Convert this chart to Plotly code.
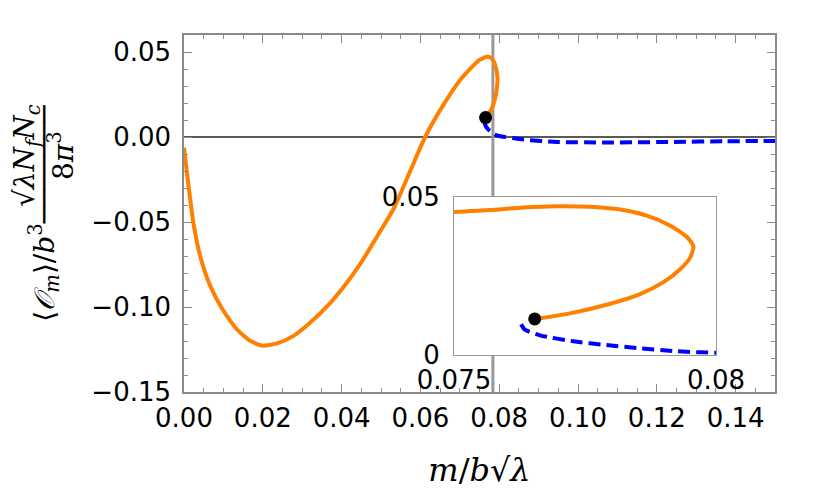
import plotly.graph_objects as go

orange_x = [0.0, 0.0011, 0.0024, 0.0041, 0.0066, 0.0096, 0.0134, 0.0168, 0.0198, 0.0236,
            0.0278, 0.0320, 0.0363, 0.0405, 0.0447, 0.0490, 0.0532, 0.0574, 0.0612, 0.0659,
            0.0701, 0.0748, 0.07569, 0.07632, 0.07696, 0.07760, 0.07823, 0.07868, 0.07912,
            0.07944, 0.07957, 0.07950, 0.07931, 0.07899, 0.07855, 0.07791, 0.07728, 0.07664,
            0.07654]
orange_y = [-0.0063, -0.0278, -0.0508, -0.0700, -0.0872, -0.1007, -0.1131, -0.1199, -0.1227,
            -0.1214, -0.1170, -0.1093, -0.0997, -0.0882, -0.0748, -0.0585, -0.0422, -0.0201,
            0.0000, 0.0192, 0.0336, 0.0451, 0.0460, 0.0468, 0.0472, 0.0470, 0.0460, 0.0442,
            0.0411, 0.0375, 0.0344, 0.0307, 0.0271, 0.0230, 0.0193, 0.0159, 0.0134, 0.0116,
            0.0114]

# unstable (blue dashed) branch
blue_x = [0.07628, 0.07635, 0.07664, 0.07728, 0.07791, 0.07855, 0.07918, 0.08004, 0.0862,
          0.0947, 0.1074, 0.1243, 0.1370, 0.1500]
blue_y = [0.0097, 0.0080, 0.0062, 0.0043, 0.0031, 0.0021, 0.0012, 0.0006, -0.0015,
          -0.0029, -0.0032, -0.0029, -0.0025, -0.0023]

# critical point and transition
crit_x = [0.07654]
crit_y = [0.0114]
transition_m = 0.0784

x_ticks = [0.0, 0.02, 0.04, 0.06, 0.08, 0.10, 0.12, 0.14]
y_ticks = [0.05, 0.0, -0.05, -0.10, -0.15]
inset_x_ticks = [0.075, 0.08]
inset_x_text = ["0.075", "0.08"]
inset_y_ticks = [0, 0.05]
inset_y_text = ["0", "0.05"]

ORANGE = "#FF8000"
BLUE = "#0000FF"
FRAME = "#8a8a8a"
inset_dom_x = [0.4569, 0.9002]
inset_dom_y = [0.1041, 0.5452]

fig = go.Figure()
for xa, ya in [("x", "y"), ("x2", "y2")]:
    fig.add_trace(go.Scatter(x=orange_x, y=orange_y, mode="lines", xaxis=xa, yaxis=ya,
                             line=dict(color=ORANGE, width=4, shape="spline", smoothing=0.6)))
    fig.add_trace(go.Scatter(x=blue_x, y=blue_y, mode="lines", xaxis=xa, yaxis=ya,
                             line=dict(color=BLUE, width=4, dash="12px,6px", shape="spline",
                                       smoothing=0.6)))
    fig.add_trace(go.Scatter(x=crit_x, y=crit_y, mode="markers", xaxis=xa, yaxis=ya,
                             marker=dict(color="black", size=13)))

# zero line and transition line of the main panel (the latter hidden behind the inset)
fig.add_shape(type="line", xref="x domain", yref="y", x0=0, x1=1, y0=0, y1=0,
              line=dict(color="#222222", width=1.5), layer="below")
for y0, y1 in [(0, inset_dom_y[0]), (inset_dom_y[1], 1)]:
    fig.add_shape(type="line", xref="x", yref="paper", x0=transition_m, x1=transition_m,
                  y0=y0, y1=y1, line=dict(color="#999999", width=3), layer="below")
fig.add_shape(type="line", xref="x2", yref="y2 domain", x0=transition_m, x1=transition_m,
              y0=0, y1=1, line=dict(color="#999999", width=1.3), layer="below")

tick_font = dict(family="DejaVu Sans", size=26, color="black")
main_axis = dict(showline=True, mirror="allticks", linecolor=FRAME, linewidth=1.5,
                 ticks="inside", ticklen=8, tickcolor=FRAME, tickwidth=1.2,
                 showgrid=False, zeroline=False, tickfont=tick_font, tickformat=".2f")

# y label <O_m>/b^3 * (sqrt(lambda) Nf Nc / 8 pi^3), stacked as three tight lines:
# small base font keeps the line pitch short, the spans carry the real size
big = '<span style="font-size:28px">'
pad = "\u00a0" * 13
y_title = (big + pad + "√<i>λ</i><i>N</i><sub><i>f</i></sub><i>N</i><sub><i>c</i></sub></span><br>"
           + big + "⟨<i>𝒪</i><sub><i>m</i></sub>⟩/<i>b</i><sup>3</sup>" + "─" * 7 + "</span><br>"
           + big + pad + "8<i>π</i><sup>3</sup></span>")

# the page body has an 8px margin, so the figure is 8px smaller each way
fig.update_layout(
    width=822, height=490, showlegend=False,
    margin=dict(l=176, r=55, t=19, b=106),
    paper_bgcolor="white", plot_bgcolor="white",
    xaxis=dict(main_axis, range=[0, 0.15], tickvals=x_ticks, ticklabelstandoff=2,
               minor=dict(ticks="inside", dtick=0.005, ticklen=4, tickcolor=FRAME),
               title=dict(text="<i>m</i>/<i>b</i>√<i>λ</i>", standoff=27,
                          font=dict(family="DejaVu Serif", size=32, color="black"))),
    yaxis=dict(main_axis, range=[-0.15, 0.06], tickvals=y_ticks, ticklabelstandoff=6,
               minor=dict(ticks="inside", dtick=0.01, ticklen=4, tickcolor=FRAME),
               title=dict(text=y_title, standoff=17,
                          font=dict(family="DejaVu Serif", size=15, color="black"))),
    xaxis2=dict(domain=inset_dom_x, anchor="y2", range=[0.075, 0.08], showline=True,
                mirror=True, linecolor="#999999", linewidth=1.2, ticks="", showgrid=False,
                zeroline=False, tickvals=inset_x_ticks, ticktext=inset_x_text,
                tickfont=tick_font, ticklabelstandoff=2),
    yaxis2=dict(domain=inset_dom_y, anchor="x2", range=[0, 0.05], showline=True,
                mirror=True, linecolor="#999999", linewidth=1.2, ticks="", showgrid=False,
                zeroline=False, tickvals=inset_y_ticks, ticktext=inset_y_text,
                tickfont=tick_font, ticklabelstandoff=8),
)

fig.write_html("out.html")
